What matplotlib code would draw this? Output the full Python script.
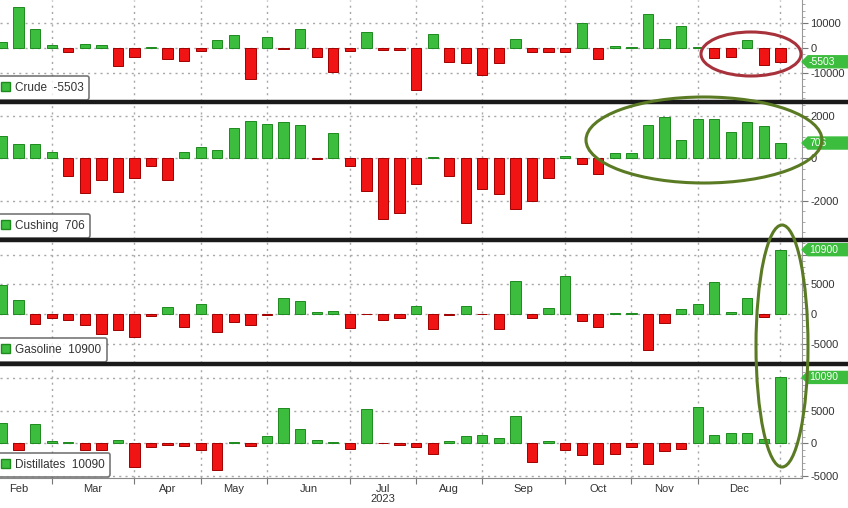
import numpy as np
import pandas as pd
import matplotlib
matplotlib.use('Agg')
import matplotlib.pyplot as plt
from matplotlib.patches import Ellipse, Patch, Polygon
from matplotlib.lines import Line2D
from matplotlib.ticker import MultipleLocator, FixedLocator
from matplotlib.transforms import blended_transform_factory

plt.rcParams['font.family'] = ['Liberation Sans', 'DejaVu Sans']

# weekly changes (thousand barrels)
weeks = pd.date_range('2023-02-10', periods=48, freq='W-FRI')

crude = [2270, 16400, 7730, 1330, -1600, 1730, 1070, -7330, -3600, 500,
         -4400, -5330, -1330, 3070, 5200, -12270, 4400, -300, 7730, -3600,
         -9470, -1330, 6270, -600, -600, -16700, 5600, -5730, -6000, -10670,
         -6000, 3730, -1730, -1730, -1730, 10000, -4400, 700, 300, 13700,
         3600, 8670, 600, -4000, -3600, 3070, -6930, -5503]
cushing = [1030, 650, 680, 290, -850, -1630, -1050, -1590, -920, -380,
           -1050, 290, 540, 370, 1420, 1720, 1600, 1690, 1540, -50,
           1190, -380, -1540, -2850, -2590, -1230, 60, -850, -3080, -1480,
           -1710, -2400, -2000, -920, 100, -280, -740, 230, 260, 1540,
           1910, 830, 1850, 1850, 1220, 1690, 1490, 706]
gasoline = [4890, 2300, -1725, -690, -980, -1900, -3450, -2700, -3850, -300,
            1270, -2130, 1720, -3050, -1270, -1900, -100, 2700, 2130, 290,
            580, -2300, -50, -980, -690, 1440, -2470, -150, 1440, -50,
            -2470, 5580, -750, 980, 6440, -1150, -2130, 100, 100, -6040,
            -1440, 860, 1720, 5350, 400, 2700, -580, 10900]
distillates = [3080, -1030, 2920, 300, 200, -1130, -1130, 410, -3690, -620,
               -360, -410, -1030, -4200, 150, -410, 1030, 5390, 2200, 510,
               150, -920, 5230, -50, -250, -670, -1640, 360, 1030, 1280,
               770, 4200, -2920, 360, -1130, -1800, -3180, -1640, -670, -3230,
               -1280, -920, 5490, 1280, 1540, 1540, 670, 10090]

names = ['Crude', 'Cushing', 'Gasoline', 'Distillates']
series = [crude, cushing, gasoline, distillates]
last_labels = ['-5503', '706', '10900', '10090']
ylims = [(-21200, 19200), (-3810, 2590), (-8300, 12370), (-5380, 12000)]
yticks = [[-10000, 0, 10000], [-2000, 0, 2000], [-5000, 0, 5000, 10000], [-5000, 0, 5000, 10000]]
ylabels = [['-10000', '0', '10000'], ['-2000', '0', '2000'], ['-5000', '0', '5000', ''], ['-5000', '0', '5000', '']]
minor = [2500, 500, 1000, 1000]

GREEN = '#3dbd3d'
GREEN_EDGE = '#1e8a1e'
RED = '#f01414'
RED_EDGE = '#a00000'
GRID = '#a8a8a8'
TXT = '#333333'

W, H = 848, 508
# panel (top, bottom) in pixels
rows = [(0, 101), (103, 239), (241, 363), (365, 478)]
right_px = 802

x = np.arange(len(weeks))
bounds = [i for i in range(1, len(weeks)) if weeks[i].month != weeks[i - 1].month]
edges = [-1] + bounds
mids = [(edges[i] + edges[i + 1]) / 2 for i in range(len(bounds))]
month_names = [weeks[b - 1].strftime('%b') for b in bounds]

fig = plt.figure(figsize=(W / 100, H / 100), dpi=100)

axes = []
for k, (top, bot) in enumerate(rows):
    ax = fig.add_axes([0, (H - bot) / H, right_px / W, (bot - top) / H])
    axes.append(ax)
    vals = np.array(series[k], dtype=float)
    colors = [GREEN if v >= 0 else RED for v in vals]
    ecol = [GREEN_EDGE if v >= 0 else RED_EDGE for v in vals]
    ax.bar(x, vals, width=0.62, color=colors, edgecolor=ecol, linewidth=0.7, zorder=3)

    ax.set_xlim(-0.12, 48.3)
    ax.set_ylim(*ylims[k])
    ax.yaxis.set_major_locator(FixedLocator(yticks[k]))
    ax.yaxis.set_minor_locator(MultipleLocator(minor[k]))
    ax.yaxis.tick_right()
    ax.set_yticklabels(ylabels[k])
    ax.tick_params(axis='y', which='major', labelsize=8, labelcolor=TXT,
                   color='#777777', length=4, pad=2)
    ax.tick_params(axis='y', which='minor', color='#999999', length=2)

    ax.set_xticks(bounds)
    ax.grid(True, which='major', linestyle=(0, (1.5, 3)), color=GRID, linewidth=1)
    ax.set_axisbelow(True)

    for s in ['top', 'left']:
        ax.spines[s].set_visible(False)
    ax.spines['right'].set_color('#999999')
    ax.spines['bottom'].set_visible(k == 3)
    ax.spines['bottom'].set_color('#888888')

    if k < 3:
        ax.tick_params(axis='x', which='both', length=0, labelbottom=False)

    # legend box
    handle = Patch(facecolor=GREEN, edgecolor=GREEN_EDGE)
    leg = ax.legend([handle], [f'{names[k]}  {last_labels[k]}'], loc='lower left',
                    bbox_to_anchor=(-0.008, 0.0), fontsize=8.5, frameon=True,
                    fancybox=True, handlelength=0.8, handleheight=0.8,
                    handletextpad=0.4, borderpad=0.5, borderaxespad=0.1)
    leg.get_frame().set_edgecolor('#555555')
    leg.get_frame().set_linewidth(1.2)
    for t in leg.get_texts():
        t.set_color(TXT)

    # last value tag on the right axis (arrow shaped box to the figure edge)
    ypx = ax.transData.transform((0, vals[-1]))[1]
    xa = right_px
    pts = [(xa, ypx), (xa + 6, ypx + 6), (W, ypx + 6), (W, ypx - 6), (xa + 6, ypx - 6)]
    fig.add_artist(Polygon([(px / W, py / H) for px, py in pts], closed=True,
                           transform=fig.transFigure, facecolor=GREEN, edgecolor=GREEN,
                           zorder=5))
    fig.text((xa + 7) / W, ypx / H, last_labels[k], color='white', fontsize=7.5,
             ha='left', va='center', zorder=6)

ax4 = axes[3]
ax4.tick_params(axis='x', which='major', length=4, color='#777777', labelbottom=False)
ax4.set_xticks(mids, minor=True)
ax4.set_xticklabels(month_names, minor=True)
ax4.tick_params(axis='x', which='minor', length=0, labelsize=8, labelcolor=TXT, pad=4)
jul = month_names.index('Jul')
ax4.text(mids[jul], -0.19, '2023', transform=blended_transform_factory(ax4.transData, ax4.transAxes),
         ha='center', va='center', fontsize=8, color=TXT)

# thick separators between panels
for ypx in [102, 240, 364]:
    fig.add_artist(Line2D([0, 1], [1 - ypx / H, 1 - ypx / H], transform=fig.transFigure,
                          color='#1a1a1a', linewidth=3.2))


def ring(cx, cy, w, h, color):
    fig.add_artist(Ellipse((cx / W, 1 - cy / H), w / W, h / H, transform=fig.transFigure,
                           fill=False, edgecolor=color, linewidth=2.2, zorder=10))


ring(751, 54, 100, 44, '#a8323c')
ring(704, 140, 236, 86, '#5b7a24')
ring(782, 346, 52, 242, '#5b7a24')

fig.savefig('out.png', dpi=100)
